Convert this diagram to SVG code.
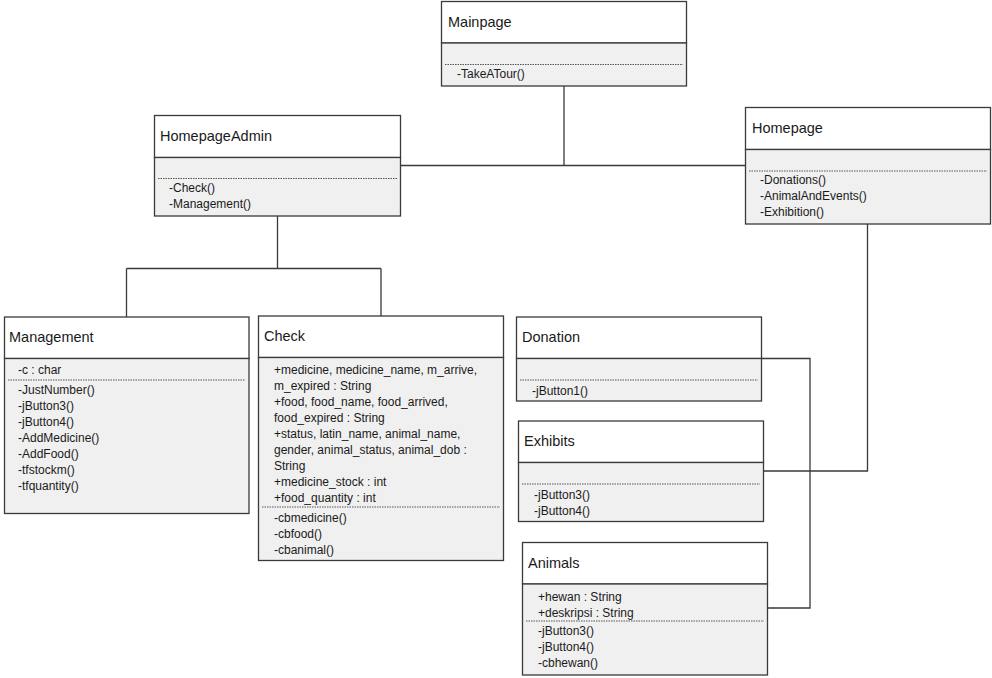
<svg xmlns="http://www.w3.org/2000/svg" width="992" height="678" viewBox="0 0 992 678">
<style>
.hd{fill:#ffffff;stroke:#3a3a3a;stroke-width:1.3}
.bd{fill:#f0f0f0;stroke:#3a3a3a;stroke-width:1.3}
.dot{stroke:#555;stroke-width:1;stroke-dasharray:1.5 1;fill:none}
.t{font-family:"Liberation Sans",Arial,sans-serif;font-size:14.5px;fill:#1a1a1a}
.m{font-family:"Liberation Sans",Arial,sans-serif;font-size:12px;fill:#1a1a1a}
.c{stroke:#3a3a3a;stroke-width:1.3;fill:none}
</style>
<rect width="992" height="678" fill="#ffffff"/>
<g id="connectors">
<path class="c" d="M564,86 V165.5 M400.5,165.5 H745.5"/>
<path class="c" d="M277.5,216 V268.5 M126.5,268.5 H381 M126.5,268.5 V317 M381,268.5 V316"/>
<path class="c" d="M867.5,224 V471 H763.5"/>
<path class="c" d="M761.5,358.5 H810 V608 H767.5"/>
</g>
<g id="Mainpage">
<rect class="hd" x="441.5" y="1.5" width="245" height="41.5"/>
<rect class="bd" x="441.5" y="43" width="245" height="43"/>
<line class="dot" x1="445" y1="64.5" x2="683" y2="64.5"/>
<text class="t" x="448" y="27">Mainpage</text>
<text class="m" x="457" y="78">-TakeATour()</text>
</g>
<g id="HomepageAdmin">
<rect class="hd" x="154.5" y="115.5" width="246" height="42"/>
<rect class="bd" x="154.5" y="157.5" width="246" height="58.5"/>
<line class="dot" x1="158" y1="178.5" x2="397" y2="178.5"/>
<text class="t" x="160" y="141">HomepageAdmin</text>
<text class="m" x="169" y="192">-Check()</text>
<text class="m" x="169" y="208">-Management()</text>
</g>
<g id="Homepage">
<rect class="hd" x="745.5" y="107.5" width="245" height="42"/>
<rect class="bd" x="745.5" y="149.5" width="245" height="74.5"/>
<line class="dot" x1="749" y1="171" x2="987" y2="171"/>
<text class="t" x="752" y="133">Homepage</text>
<text class="m" x="760" y="184">-Donations()</text>
<text class="m" x="760" y="200">-AnimalAndEvents()</text>
<text class="m" x="760" y="216">-Exhibition()</text>
</g>
<g id="Management">
<rect class="hd" x="4.5" y="317" width="244.5" height="41.5"/>
<rect class="bd" x="4.5" y="358.5" width="244.5" height="155"/>
<line class="dot" x1="8" y1="380" x2="245" y2="380"/>
<text class="t" x="9" y="342">Management</text>
<text class="m" x="18" y="374">-c : char</text>
<text class="m" x="18" y="394">-JustNumber()</text>
<text class="m" x="18" y="410">-jButton3()</text>
<text class="m" x="18" y="426">-jButton4()</text>
<text class="m" x="18" y="442">-AddMedicine()</text>
<text class="m" x="18" y="458">-AddFood()</text>
<text class="m" x="18" y="474">-tfstockm()</text>
<text class="m" x="18" y="490">-tfquantity()</text>
</g>
<g id="Check">
<rect class="hd" x="258.5" y="316" width="245" height="41.5"/>
<rect class="bd" x="258.5" y="357.5" width="245" height="203"/>
<line class="dot" x1="262" y1="507" x2="500" y2="507"/>
<text class="t" x="264" y="341">Check</text>
<text class="m" x="274" y="374">+medicine, medicine_name, m_arrive,</text>
<text class="m" x="274" y="390">m_expired : String</text>
<text class="m" x="274" y="406">+food, food_name, food_arrived,</text>
<text class="m" x="274" y="422">food_expired : String</text>
<text class="m" x="274" y="438">+status, latin_name, animal_name,</text>
<text class="m" x="274" y="454">gender, animal_status, animal_dob :</text>
<text class="m" x="274" y="470">String</text>
<text class="m" x="274" y="486">+medicine_stock : int</text>
<text class="m" x="274" y="502">+food_quantity : int</text>
<text class="m" x="274" y="522">-cbmedicine()</text>
<text class="m" x="274" y="538">-cbfood()</text>
<text class="m" x="274" y="554">-cbanimal()</text>
</g>
<g id="Donation">
<rect class="hd" x="516.5" y="317" width="245" height="41.5"/>
<rect class="bd" x="516.5" y="358.5" width="245" height="42.5"/>
<line class="dot" x1="520" y1="380" x2="758" y2="380"/>
<text class="t" x="522" y="342">Donation</text>
<text class="m" x="532" y="395">-jButton1()</text>
</g>
<g id="Exhibits">
<rect class="hd" x="518.5" y="421" width="245" height="41.5"/>
<rect class="bd" x="518.5" y="462.5" width="245" height="59"/>
<line class="dot" x1="522" y1="484" x2="760" y2="484"/>
<text class="t" x="524" y="446">Exhibits</text>
<text class="m" x="534" y="499">-jButton3()</text>
<text class="m" x="534" y="515">-jButton4()</text>
</g>
<g id="Animals">
<rect class="hd" x="522.5" y="542.5" width="245" height="41.5"/>
<rect class="bd" x="522.5" y="584" width="245" height="91"/>
<line class="dot" x1="526" y1="621" x2="764" y2="621"/>
<text class="t" x="528" y="568">Animals</text>
<text class="m" x="538" y="601">+hewan : String</text>
<text class="m" x="538" y="617">+deskripsi : String</text>
<text class="m" x="538" y="635">-jButton3()</text>
<text class="m" x="538" y="651">-jButton4()</text>
<text class="m" x="538" y="667">-cbhewan()</text>
</g>
</svg>
